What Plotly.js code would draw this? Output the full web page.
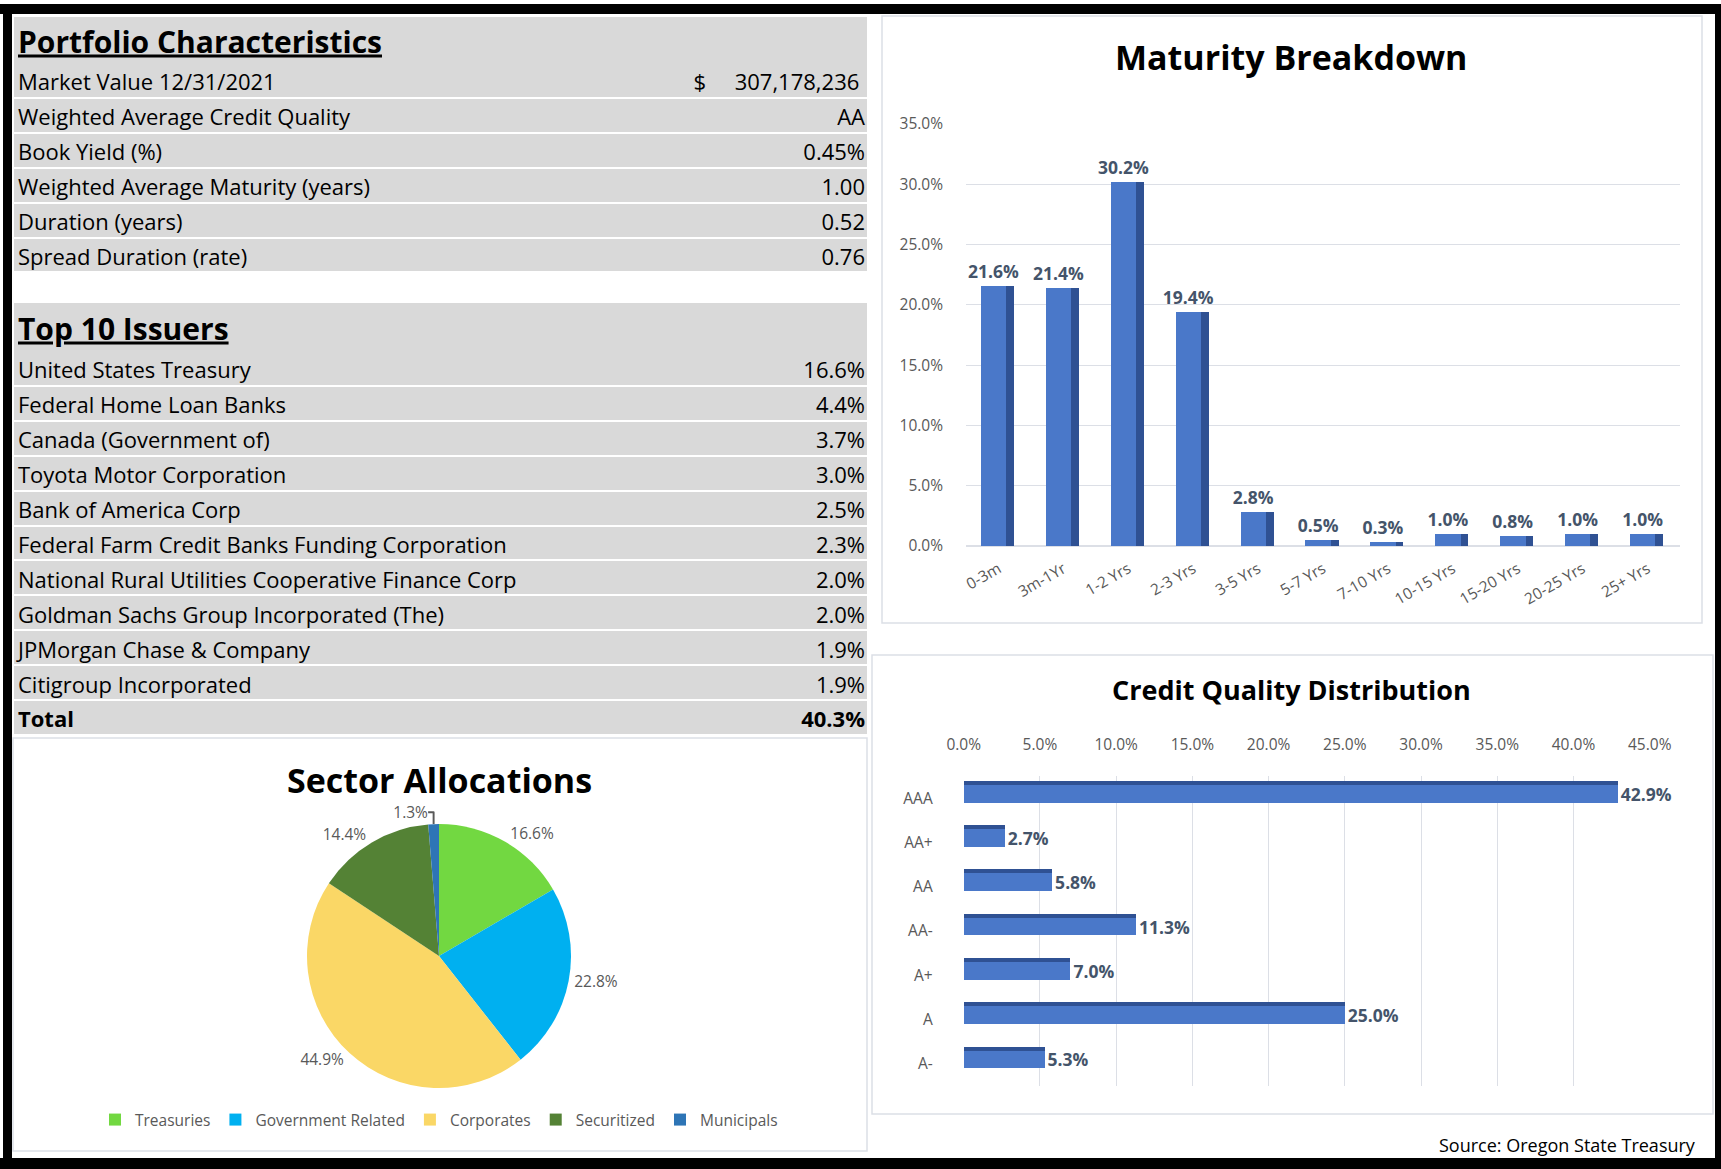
<!DOCTYPE html>
<html>
<head>
<meta charset="utf-8">
<script src="https://cdn.plot.ly/plotly-3.0.1.min.js"></script>
<style>html,body{margin:0;padding:0;background:#fff;}#chart{width:1721px;height:1169px;}</style>
</head>
<body>
<div id="chart"></div>
<script>
// ---------- data ----------
const charTitle = 'Portfolio Characteristics';
const charLabels = ['Market Value 12/31/2021', 'Weighted Average Credit Quality', 'Book Yield (%)',
  'Weighted Average Maturity (years)', 'Duration (years)', 'Spread Duration (rate)'];
const charValues = ['$\u00A0\u00A0\u00A0\u00A0\u00A0307,178,236\u00A0', 'AA', '0.45%', '1.00', '0.52', '0.76'];

const issuerTitle = 'Top 10 Issuers';
const issuerNames = ['United States Treasury', 'Federal Home Loan Banks', 'Canada (Government of)',
  'Toyota Motor Corporation', 'Bank of America Corp', 'Federal Farm Credit Banks Funding Corporation',
  'National Rural Utilities Cooperative Finance Corp', 'Goldman Sachs Group Incorporated (The)',
  'JPMorgan Chase & Company', 'Citigroup Incorporated', 'Total'];
const issuerPct = [16.6, 4.4, 3.7, 3.0, 2.5, 2.3, 2.0, 2.0, 1.9, 1.9, 40.3];

const sectorNames = ['Treasuries', 'Government Related', 'Corporates', 'Securitized', 'Municipals'];
const sectorPct = [16.6, 22.8, 44.9, 14.4, 1.3];
const sectorColors = ['#72D841', '#00B0F0', '#FAD766', '#548235', '#2E75B6'];

const maturityBuckets = ['0-3m', '3m-1Yr', '1-2 Yrs', '2-3 Yrs', '3-5 Yrs', '5-7 Yrs', '7-10 Yrs',
  '10-15 Yrs', '15-20 Yrs', '20-25 Yrs', '25+ Yrs'];
const maturityPct = [21.6, 21.4, 30.2, 19.4, 2.8, 0.5, 0.3, 1.0, 0.8, 1.0, 1.0];

const ratings = ['AAA', 'AA+', 'AA', 'AA-', 'A+', 'A', 'A-'];
const ratingPct = [42.9, 2.7, 5.8, 11.3, 7.0, 25.0, 5.3];

// ---------- styling helpers ----------
const W = 1721, H = 1169;
const px = x => x / W;
const py = y => 1 - y / H;
const FONT = '"Open Sans", sans-serif';
const GRAY = '#D9D9D9';
const GRID = '#DCDFE6';
const TXT = '#595959';
const LBL = '#44546A';
const FRONT = '#4A78C9';
const SIDE = '#2F5193';

// ---------- table layout (pixel units on a 1:1 axis) ----------
const ROWH = 34.9;
function tableGeometry(top, headH, n) {
  const rows = [];
  rows.push({t: top, b: top + headH});
  const start = top + headH;
  for (let i = 0; i < n; i++) {
    rows.push({t: start + i * ROWH + (i === 0 ? 0 : 1), b: start + (i + 1) * ROWH - 1});
  }
  return rows;
}
const geo1 = tableGeometry(17, 46, charLabels.length);
const geo2 = tableGeometry(303, 48, issuerNames.length);
const allRows = geo1.concat(geo2);
const center = r => (r.t + r.b) / 2;
const TEXT_DY = 4.5;   // visual centring of text inside a row

const nIss = issuerNames.length;
const issuerLabelText = issuerNames.map((n, i) => i === nIss - 1 ? '<b>' + n + '</b>' : n);
const issuerValueText = issuerPct.map((v, i) => {
  const s = v.toFixed(1) + '%';
  return i === nIss - 1 ? '<b>' + s + '</b>' : s;
});

const TX0 = 4 / 853, TX1 = 1 - 2 / 853;
const rowCenters = geo1.slice(1).concat(geo2.slice(1)).map(r => center(r) + TEXT_DY);
const labelTexts = charLabels.concat(issuerLabelText);
const valueTexts = charValues.concat(issuerValueText);

const traces = [
  // gray row cells of both tables
  {
    type: 'bar', orientation: 'h', xaxis: 'x3', yaxis: 'y3',
    y: allRows.map(center), x: allRows.map(() => 1), base: 0,
    width: allRows.map(r => r.b - r.t), marker: {color: GRAY, line: {width: 0}},
    showlegend: false, hoverinfo: 'skip'
  },
  // titles
  {
    type: 'scatter', mode: 'text', xaxis: 'x3', yaxis: 'y3',
    x: [TX0, TX0], y: [center(geo1[0]) + 5, center(geo2[0]) + 5], text: [charTitle, issuerTitle],
    textposition: 'middle right', cliponaxis: false, showlegend: false, hoverinfo: 'skip',
    textfont: {family: FONT, size: 30, color: '#000', weight: 'bold', lineposition: 'under'}
  },
  // labels
  {
    type: 'scatter', mode: 'text', xaxis: 'x3', yaxis: 'y3',
    x: labelTexts.map(() => TX0), y: rowCenters, text: labelTexts,
    textposition: 'middle right', cliponaxis: false, showlegend: false, hoverinfo: 'skip',
    textfont: {family: FONT, size: 22, color: '#000'}
  },
  // values
  {
    type: 'scatter', mode: 'text', xaxis: 'x3', yaxis: 'y3',
    x: valueTexts.map(() => TX1), y: rowCenters, text: valueTexts,
    textposition: 'middle left', cliponaxis: false, showlegend: false, hoverinfo: 'skip',
    textfont: {family: FONT, size: 22, color: '#000'}
  },
  // sector pie
  {
    type: 'pie', labels: sectorNames, values: sectorPct, sort: false, direction: 'clockwise', rotation: 0,
    marker: {colors: sectorColors, line: {color: '#FFFFFF', width: 0}},
    domain: {x: [px(439 - 132), px(439 + 132)], y: [py(1088), py(824)]},
    texttemplate: '%{value:.1f}%', textposition: 'outside',
    textfont: {family: FONT, size: 15.5, color: TXT},
    hoverinfo: 'label+value', showlegend: true
  },
  // maturity: side face then front face
  {
    type: 'bar', x: maturityBuckets, y: maturityPct, xaxis: 'x', yaxis: 'y',
    marker: {color: SIDE}, offset: 0.12, width: 0.12, showlegend: false, hoverinfo: 'skip'
  },
  {
    type: 'bar', x: maturityBuckets, y: maturityPct, xaxis: 'x', yaxis: 'y',
    marker: {color: FRONT}, offset: -0.27, width: 0.39, showlegend: false,
    texttemplate: '%{y:.1f}%', textposition: 'outside', cliponaxis: false, constraintext: 'none',
    textfont: {family: FONT, size: 17.5, color: LBL, weight: 'bold'}
  },
  // credit quality: top face then front face
  {
    type: 'bar', orientation: 'h', y: ratings, x: ratingPct, xaxis: 'x2', yaxis: 'y2',
    marker: {color: SIDE}, offset: -0.39, width: 0.09, showlegend: false, hoverinfo: 'skip'
  },
  {
    type: 'bar', orientation: 'h', y: ratings, x: ratingPct, xaxis: 'x2', yaxis: 'y2',
    marker: {color: FRONT}, offset: -0.30, width: 0.40, showlegend: false,
    texttemplate: '%{x:.1f}%', textposition: 'outside', cliponaxis: false, constraintext: 'none',
    textfont: {family: FONT, size: 17.5, color: LBL, weight: 'bold'}
  }
];

const rect = (x0, y0, x1, y1, fill, line) => ({
  type: 'rect', xref: 'paper', yref: 'paper', x0: px(x0), x1: px(x1), y0: py(y1), y1: py(y0),
  fillcolor: fill || 'rgba(0,0,0,0)', line: line ? {color: line, width: 1.5} : {width: 0}, layer: 'above'
});

const tickFont = {family: FONT, size: 15.5, color: TXT};
const layout = {
  width: W, height: H, margin: {l: 0, r: 0, t: 0, b: 0},
  paper_bgcolor: '#FFFFFF', plot_bgcolor: 'rgba(0,0,0,0)',
  font: {family: FONT, color: TXT},
  barmode: 'overlay', bargap: 0,
  xaxis: {domain: [px(966), px(1680)], anchor: 'y', type: 'category', tickangle: -30,
    tickfont: tickFont, showgrid: false, showline: false, zeroline: false,
    ticks: '', ticklabelstandoff: 10},
  yaxis: {domain: [py(546), py(124)], anchor: 'x', range: [0, 35], dtick: 5, tickformat: '.1f', ticksuffix: '%',
    tickfont: tickFont, gridcolor: GRID, gridwidth: 1,
    zeroline: true, zerolinecolor: GRID, zerolinewidth: 1.5, showline: false, ticks: '', ticklabelstandoff: 22},
  xaxis2: {domain: [px(963.7), px(1649.7)], anchor: 'y2', side: 'top', range: [0, 45], dtick: 5,
    tickformat: '.1f', ticksuffix: '%', tickfont: tickFont,
    gridcolor: GRID, gridwidth: 1, zeroline: false, showline: false, ticks: '', ticklabelstandoff: 22},
  yaxis2: {domain: [py(1086), py(776)], anchor: 'x2', type: 'category', autorange: 'reversed',
    tickfont: tickFont, showgrid: false, zeroline: false, showline: false,
    ticks: '', ticklabelstandoff: 30},
  xaxis3: {domain: [px(14), px(867)], anchor: 'y3', range: [0, 1], visible: false, fixedrange: true},
  yaxis3: {domain: [py(737), py(17)], anchor: 'x3', range: [737, 17], visible: false, fixedrange: true},
  legend: {orientation: 'h', x: px(439), xanchor: 'center', y: py(1120), yanchor: 'middle',
    font: {family: FONT, size: 15.5, color: TXT}, itemwidth: 30, traceorder: 'normal'},
  annotations: [
    {text: '<b>Maturity Breakdown</b>', xref: 'paper', yref: 'paper', x: px(1291), y: py(57),
      xanchor: 'center', yanchor: 'middle', showarrow: false, font: {family: FONT, size: 34, color: '#000'}},
    {text: '<b>Credit Quality Distribution</b>', xref: 'paper', yref: 'paper', x: px(1291), y: py(689),
      xanchor: 'center', yanchor: 'middle', showarrow: false, font: {family: FONT, size: 27, color: '#000'}},
    {text: '<b>Sector Allocations</b>', xref: 'paper', yref: 'paper', x: px(439), y: py(780),
      xanchor: 'center', yanchor: 'middle', showarrow: false, font: {family: FONT, size: 34, color: '#000'}},
    {text: 'Source: Oregon State Treasury', xref: 'paper', yref: 'paper', x: px(1698), y: py(1145),
      xanchor: 'right', yanchor: 'middle', showarrow: false, font: {family: FONT, size: 18, color: '#000'}}
  ],
  shapes: [
    rect(882, 16, 1702, 623, null, GRID),
    rect(872, 655, 1713, 1114, null, GRID),
    rect(13, 738, 867, 1151, null, GRID),
    rect(0, 4, W, 14, '#000'),
    rect(3, 4, 12, 1169, '#000'),
    rect(1715, 4, W, 1169, '#000'),
    rect(0, 1158, W, 1169, '#000')
  ]
};

Plotly.newPlot('chart', traces, layout, {displayModeBar: false, staticPlot: true});
</script>
</body>
</html>
